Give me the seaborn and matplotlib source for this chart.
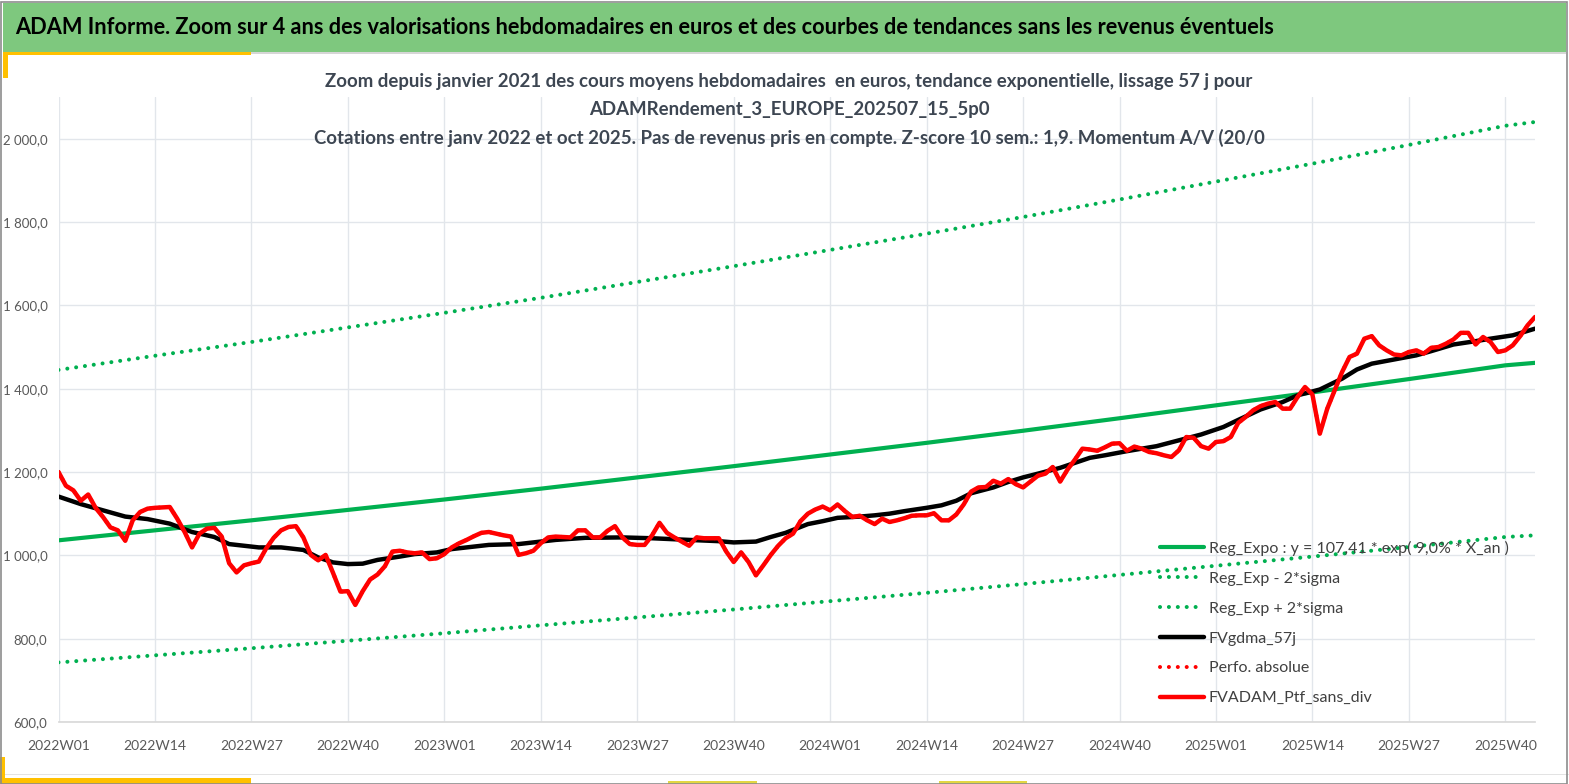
import numpy as np
import pandas as pd
import matplotlib.pyplot as plt
from matplotlib.patches import Rectangle
from matplotlib.ticker import FuncFormatter, FixedLocator
import seaborn as sns

# weekly valuations, 2022W01 -> 2025W44 (one value per week)
fvadam = [1200, 1167, 1156, 1131, 1146, 1114, 1092, 1067, 1060, 1035,
          1084, 1104, 1112, 1114, 1115, 1116, 1088, 1056, 1019, 1052,
          1064, 1066, 1045, 981, 959, 976, 981, 985, 1017, 1042,
          1060, 1068, 1070, 1043, 1001, 988, 1001, 958, 913, 914,
          881, 914, 942, 954, 974, 1009, 1011, 1007, 1005, 1007,
          991, 993, 1003, 1019, 1029, 1037, 1046, 1054, 1056, 1052,
          1048, 1045, 1001, 1005, 1011, 1029, 1043, 1045, 1044, 1043,
          1060, 1060, 1043, 1043, 1059, 1070, 1043, 1027, 1025, 1025,
          1048, 1078, 1054, 1043, 1033, 1023, 1043, 1041, 1041, 1041,
          1009, 984, 1007, 984, 952, 976, 1001, 1023, 1041, 1052,
          1082, 1100, 1110, 1117, 1108, 1122, 1106, 1092, 1095, 1084,
          1075, 1088, 1080, 1084, 1089, 1095, 1096, 1096, 1101, 1084,
          1084, 1098, 1122, 1153, 1163, 1164, 1179, 1172, 1183, 1171,
          1163, 1177, 1191, 1196, 1212, 1177, 1206, 1230, 1256, 1254,
          1251, 1259, 1268, 1269, 1251, 1261, 1256, 1248, 1245, 1240,
          1236, 1252, 1284, 1282, 1262, 1256, 1272, 1274, 1284, 1318,
          1332, 1348, 1358, 1364, 1368, 1352, 1352, 1380, 1404, 1386,
          1292, 1352, 1396, 1440, 1476, 1484, 1520, 1526, 1504, 1492,
          1482, 1480, 1488, 1492, 1484, 1498, 1500, 1508, 1518, 1534,
          1534, 1506, 1524, 1512, 1488, 1492, 1504, 1526, 1552, 1572]

# smoothed curve FVgdma_57j, read at some weeks
gdma_week = [0, 3, 6, 9, 12, 15, 18, 21, 23, 27, 30, 33, 35, 37, 39, 41, 43, 46,
             48, 51, 53, 58, 62, 67, 71, 76, 80, 85, 89, 91, 94, 96, 98, 100,
             101, 103, 105, 108, 110, 112, 114, 117, 119, 121, 123, 126, 128,
             130, 132, 135, 137, 139, 141, 144, 146, 148, 151, 154, 157, 159,
             162, 165, 167, 170, 173, 175, 177, 180, 183, 185, 188, 191, 193,
             196, 199]
gdma = [1141, 1123, 1108, 1093, 1087, 1076, 1056, 1044, 1027, 1019, 1019, 1013,
        995, 983, 979, 980, 989, 997, 1003, 1007, 1015, 1025, 1027, 1037, 1042,
        1043, 1041, 1037, 1034, 1031, 1033, 1044, 1054, 1068, 1075, 1082, 1090,
        1093, 1096, 1100, 1106, 1114, 1120, 1131, 1149, 1163, 1176, 1187, 1196,
        1210, 1222, 1234, 1240, 1250, 1256, 1262, 1276, 1290, 1308, 1325, 1350,
        1368, 1384, 1398, 1424, 1446, 1460, 1470, 1480, 1490, 1506, 1514, 1520,
        1528, 1544]

# exponential trend and +/- 2 sigma bands, read every 13 weeks
trend_week = [0, 13, 26, 39, 52, 65, 78, 91, 104, 117, 130, 143, 156, 169, 182, 195, 199]
reg_expo = [1036, 1060, 1084, 1109, 1134, 1160, 1187, 1214, 1242, 1270, 1299,
            1329, 1360, 1391, 1423, 1456, 1462]
reg_low = [743, 760, 777, 795, 813, 832, 851, 870, 890, 910, 931, 953, 975,
           997, 1020, 1044, 1048]
reg_high = [1445, 1479, 1512, 1547, 1582, 1618, 1656, 1694, 1733, 1772, 1812,
            1854, 1897, 1940, 1985, 2031, 2040]

week_labels = ['2022W01', '2022W14', '2022W27', '2022W40', '2023W01', '2023W14',
               '2023W27', '2023W40', '2024W01', '2024W14', '2024W27', '2024W40',
               '2025W01', '2025W14', '2025W27', '2025W40']
y_ticks = [600, 800, 1000, 1200, 1400, 1600, 1800, 2000]

title = ('ADAM Informe. Zoom sur 4 ans des valorisations hebdomadaires en euros '
         'et des courbes de tendances sans les revenus éventuels')
subtitle = ['Zoom depuis janvier 2021 des cours moyens hebdomadaires  en euros, '
            'tendance exponentielle, lissage 57 j pour',
            'ADAMRendement_3_EUROPE_202507_15_5p0',
            'Cotations entre janv 2022 et oct 2025. Pas de revenus pris en compte. '
            'Z-score 10 sem.: 1,9. Momentum A/V (20/0']

labels = ['Reg_Expo : y = 107,41 * exp( 9,0% * X_an )', 'Reg_Exp - 2*sigma',
          'Reg_Exp + 2*sigma', 'FVgdma_57j', 'Perfo. absolue', 'FVADAM_Ptf_sans_div']

df = pd.DataFrame({'week': np.arange(len(fvadam)), 'value': fvadam})
smooth = pd.DataFrame({'week': gdma_week, 'value': gdma})
trend = pd.DataFrame({'week': trend_week, 'expo': reg_expo,
                      'low': reg_low, 'high': reg_high})

sns.set_theme(style='white')
plt.rcParams['font.family'] = ['Lato', 'DejaVu Sans']

W, H = 1569, 784
fig = plt.figure(figsize=(W / 100, H / 100), dpi=100)
ax = fig.add_axes([58.5 / W, 1 - 722 / H, (1535 - 58.5) / W, (722 - 97) / H])

green = '#00B050'
dots = (0, (0.01, 2.2))

sns.lineplot(data=trend, x='week', y='expo', ax=ax, color=green, lw=3.0,
             label=labels[0])
sns.lineplot(data=trend, x='week', y='low', ax=ax, color=green, lw=2.9,
             linestyle=dots, dash_capstyle='round', label=labels[1])
sns.lineplot(data=trend, x='week', y='high', ax=ax, color=green, lw=2.9,
             linestyle=dots, dash_capstyle='round', label=labels[2])
sns.lineplot(data=smooth, x='week', y='value', ax=ax, color='black', lw=3.2,
             label=labels[3])
sns.lineplot(data=df, x='week', y='value', ax=ax, color='#FF0000', lw=2.9,
             linestyle=dots, dash_capstyle='round', label=labels[4])
sns.lineplot(data=df, x='week', y='value', ax=ax, color='#FF0000', lw=3.2,
             label=labels[5])
handles = ax.get_lines()[:6]

ax.set_xlim(0, len(fvadam) - 1)
ax.set_ylim(600, 2100)
ax.set_xticks(np.arange(len(week_labels)) * 13)
ax.set_xticklabels(week_labels)
ax.xaxis.set_minor_locator(FixedLocator(np.arange(6.5, len(fvadam), 13)))
ax.set_yticks(y_ticks)
ax.yaxis.set_major_formatter(FuncFormatter(
    lambda v, p: f'{v:,.1f}'.replace(',', ' ').replace('.', ',')))
ax.set_xlabel('')
ax.set_ylabel('')

ax.grid(True, which='major', color='#E2E6EB', lw=1.0)
ax.set_axisbelow(True)
for s in ['top', 'right', 'left']:
    ax.spines[s].set_visible(False)
ax.spines['bottom'].set_color('#D9D9D9')
ax.tick_params(axis='x', which='major', length=0, pad=13, labelsize=10,
               labelcolor='#595959')
ax.tick_params(axis='x', which='minor', direction='in', length=5,
               color='#D9D9D9', width=1)
ax.tick_params(axis='y', length=0, pad=8, labelsize=9.5, labelcolor='#595959')

leg = ax.legend(handles=handles, labels=labels, loc='upper left',
                bbox_to_anchor=(1160 / W, 1 - 541 / H),
                bbox_transform=fig.transFigure, frameon=False, fontsize=11.5,
                handlelength=2.75, handletextpad=0.3, labelspacing=0.98,
                borderpad=0, borderaxespad=0)
for t in leg.get_texts():
    t.set_color('#404040')


def box(x0, y0, x1, y1, color, z=5):
    fig.add_artist(Rectangle((x0 / W, 1 - y1 / H), (x1 - x0) / W, (y1 - y0) / H,
                             transform=fig.transFigure, facecolor=color,
                             edgecolor='none', zorder=z))


# frame and banner
box(3, 3, 1566, 52, '#7EC87E', z=1)
box(3, 52, 1566, 54, '#D6D6D6')
box(3, 52, 251, 55, '#FFC000')
box(3, 52, 8, 78, '#FFC000')
box(0, 774, 1569, 775, '#E3E3E3')
box(0, 778, 251, 784, '#FFC000')
box(0, 757, 5, 784, '#FFC000')
box(668, 781, 757, 784, '#E2D642')
box(939, 781, 1027, 784, '#E2D642')
fig.add_artist(Rectangle((0.5 / W, 0.5 / H), (W - 3) / W, (H - 2) / H,
                         transform=fig.transFigure, facecolor='none',
                         edgecolor='#8C8C8C', lw=1.2, zorder=6))

fig.text(15 / W, 1 - 28 / H, title, fontsize=15.7, fontweight='bold',
         color='black', va='center', ha='left', zorder=7)
for i, line in enumerate(subtitle):
    fig.text(789 / W, 1 - (82 + 28 * i) / H, line, fontsize=13.4,
             fontweight='bold', color='#3D4652', va='center', ha='center')

plt.savefig('out.png', dpi=100)
